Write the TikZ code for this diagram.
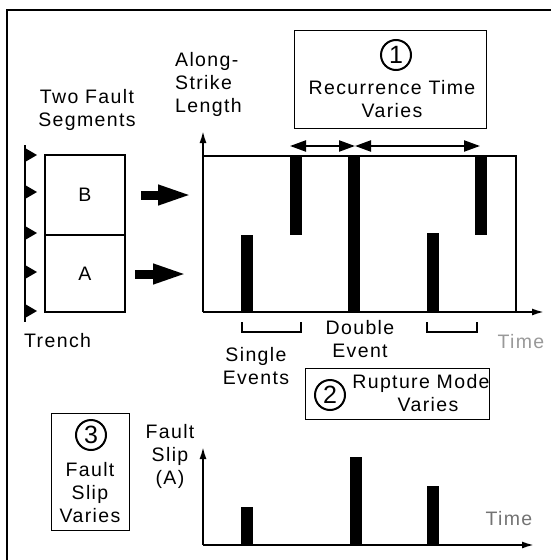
\documentclass[tikz,border=0pt]{standalone}
\usepackage{fontspec}
\setmainfont{Liberation Sans}[LetterSpace=7]
\usetikzlibrary{arrows.meta}
\tikzset{
  lbl/.style={font=\fontsize{19.5}{23}\selectfont, inner sep=0pt, align=center},
  lbll/.style={font=\fontsize{19.5}{23}\selectfont, inner sep=0pt, align=left},
  faded/.style={lbl, text=black!45},
  bar/.style={fill=black, draw=none, minimum width=12pt, inner sep=0pt},
  segbox/.style={draw, line width=1.5pt, minimum width=80pt, inner sep=0pt, font=\fontsize{19.5}{23}\selectfont},
  infobox/.style={draw, line width=1pt, inner sep=0pt},
  circ/.style={draw, circle, line width=2pt, minimum size=30pt, inner sep=0pt, font=\fontsize{25}{25}\selectfont},
  axis/.style={line width=1.8pt, -{Latex[length=12pt,width=7pt]}},
  bigarrow/.style={line width=9pt, -{Triangle[length=35pt,width=18pt]}},
  dblarrow/.style={line width=2.2pt, {Triangle[length=16pt,width=11pt]}-{Triangle[length=16pt,width=11pt]}},
  brack/.style={line width=1.3pt},
  tri/.style={fill=black}
}
\begin{document}
\begin{tikzpicture}[x=1pt,y=-1pt]
\useasboundingbox (0,0) rectangle (550,560);
% outer frame (cut off at right and bottom)
\coordinate (fbl) at (7,562);
\coordinate (ftl) at (7,10);
\coordinate (ftr) at (552,10);
\draw[line width=1.2pt] (fbl) -- (ftl) -- (ftr);

% trench
\coordinate (tr1) at (25,145);
\coordinate (tr2) at (25,322);
\draw[line width=2pt] (tr1) -- (tr2);
\foreach \yy in {155,192,233,272,311}{
  \fill[tri] (25,\yy-7) -- (37,\yy) -- (25,\yy+7) -- cycle;
}
\node[lbll, anchor=west] (trench) at (24,341) {Trench};

% segments
\node[lbl] (twofault) at (87,110) {Two Fault\\Segments};
\node[segbox, minimum height=80pt] (segB) at (85,195) {B};
\node[segbox, minimum height=77pt] (segA) at (85,273.5) {A};

% main plot
\coordinate (o1) at (203,312);
\coordinate (ytip1) at (203,131);
\coordinate (xtip1) at (544,312);
\coordinate (tl) at (203,156);
\coordinate (tr) at (516,156);
\coordinate (br) at (516,312);
\draw[axis] (o1) -- (ytip1);
\draw[axis] (o1) -- (xtip1);
\draw[line width=1.8pt] (tl) -- (tr) -- (br);
\node[lbll, anchor=west] (along) at (175,84) {Along-\\Strike\\Length};

% big arrows
\draw[bigarrow, shorten <=15pt, shorten >=10pt] (segB.east) -- (segB.east -| o1);
\coordinate (aArrow) at (125,274);
\draw[bigarrow, shorten <=10pt, shorten >=15pt] (aArrow) -- (aArrow -| o1);

% bars
\node[bar, minimum height=77pt, anchor=south] (a1) at (247,312) {};
\node[bar, minimum height=79pt, anchor=north] (b1) at (295.5,156) {};
\node[bar, minimum height=156pt, anchor=north] (dbl) at (354,156) {};
\node[bar, minimum height=79pt, anchor=south] (a2) at (432.5,312) {};
\node[bar, minimum height=79pt, anchor=north] (b2) at (480.5,156) {};

% recurrence arrows
\coordinate (r1) at (290,146);
\coordinate (r2) at (355,146);
\coordinate (r3) at (480,146);
\draw[dblarrow] (r1) -- (r2);
\draw[dblarrow] (r2) -- (r3);

% box 1
\node[infobox, minimum width=192pt, minimum height=98pt] (box1) at (390,79) {};
\node[circ] (c1) at (396,55) {1};
\node[lbl] (rec) at (392,99) {Recurrence Time\\Varies};

% brackets
\coordinate (bl1) at (242,322); \coordinate (bl2) at (242,332);
\coordinate (bl3) at (301,332); \coordinate (bl4) at (301,322);
\draw[brack] (bl1) -- (bl2) -- (bl3) -- (bl4);
\coordinate (br1) at (427,322); \coordinate (br2) at (427,332);
\coordinate (br3) at (477,332); \coordinate (br4) at (477,322);
\draw[brack] (br1) -- (br2) -- (br3) -- (br4);

\node[lbl] (single) at (256,366) {Single\\Events};
\node[lbl] (double) at (360,339) {Double\\Event};
\node[faded, text=black!40] (time1) at (521,342) {Time};

% box 2
\node[infobox, minimum width=184pt, minimum height=51pt] (box2) at (397,393.5) {};
\node[circ] (c2) at (330,395) {2};
\node[lbl] (rup) at (421,393) {Rupture Mode\\\hspace*{14pt}Varies};

% box 3
\node[infobox, minimum width=78pt, minimum height=117pt] (box3) at (90,471.5) {};
\node[circ] (c3) at (91,435) {3};
\node[lbl] (fsv) at (90,493) {Fault\\Slip\\Varies};

% lower plot
\node[lbl] (fsa) at (170,456) {Fault\\Slip\\(A)};
\coordinate (o2) at (203,545);
\coordinate (ytip2) at (203,447);
\coordinate (xtip2) at (534,545);
\draw[axis] (o2) -- (ytip2);
\draw[axis] (o2) -- (xtip2);
\node[bar, minimum height=38pt, anchor=south] (s1) at (247,545) {};
\node[bar, minimum height=88pt, anchor=south] (s2) at (355.5,545) {};
\node[bar, minimum height=59pt, anchor=south] (s3) at (433,545) {};
\node[faded, text=black!55] (time2) at (509,519) {Time};
\end{tikzpicture}
\end{document}
